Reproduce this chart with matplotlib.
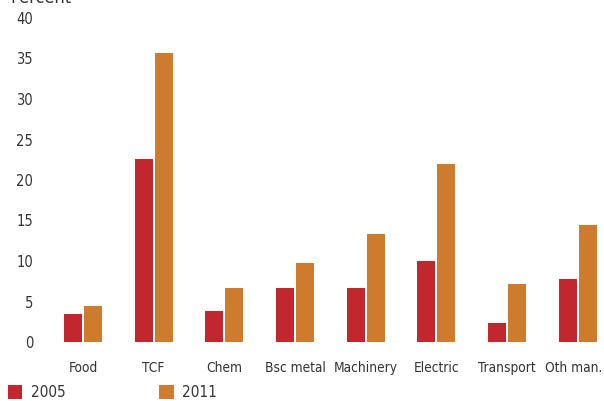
import numpy as np
import matplotlib.pyplot as plt
from matplotlib.transforms import ScaledTranslation

categories = ["Food", "TCF", "Chem", "Bsc metal", "Machinery", "Electric", "Transport", "Oth man."]
vals_2005 = [3.5, 22.6, 3.8, 6.7, 6.7, 10.0, 2.3, 7.8]
vals_2011 = [4.4, 35.7, 6.7, 9.8, 13.3, 22.0, 7.2, 14.4]
yticks = [0, 5, 10, 15, 20, 25, 30, 35, 40]

red = "#C1272D"
orange = "#CF7B2D"
text_col = "#333333"

# DejaVu Sans Condensed is the closest thing to the narrow face of the original
plt.rcParams["font.family"] = ["DejaVu Sans"]
plt.rcParams["font.stretch"] = "condensed"

fig = plt.figure(figsize=(6.04, 4.01), dpi=100)
ax = fig.add_axes([40 / 604, 59 / 401, 564 / 604, 324 / 401])

x = np.arange(len(categories))
w = 0.255
b1 = ax.bar(x - w / 2 - 0.014, vals_2005, width=w, color=red, label="2005")
b2 = ax.bar(x + w / 2 + 0.014, vals_2011, width=w, color=orange, label="2011")

ax.set_xlim(-0.608, 7.37)
ax.set_ylim(0, 40)
ax.set_yticks(yticks)
ax.set_xticks(x)
ax.set_xticklabels(categories)
ax.tick_params(axis="both", length=0, labelsize=10.5, colors=text_col)
ax.tick_params(axis="x", pad=14, labelsize=9.8)
ax.tick_params(axis="y", pad=5)
for s in ax.spines.values():
    s.set_visible(False)

# last label sits right against the edge, nudge it in a little
last = ax.get_xticklabels()[-1]
last.set_transform(last.get_transform() + ScaledTranslation(-4 / 100, 0, fig.dpi_scale_trans))

# title is cut off at the top in the original too
fig.text(10 / 604, 1 - 3 / 401, "Percent", fontsize=13, color=text_col, va="baseline", ha="left")

fig.legend(handles=[b1, b2], labels=["2005", "2011"], loc="lower left",
           bbox_to_anchor=(-6 / 604, -13 / 401), ncol=2, frameon=False,
           fontsize=11, handlelength=0.95, handleheight=0.95, handletextpad=0.55,
           columnspacing=6.15, labelcolor=text_col)

fig.savefig("out.png", dpi=100)
